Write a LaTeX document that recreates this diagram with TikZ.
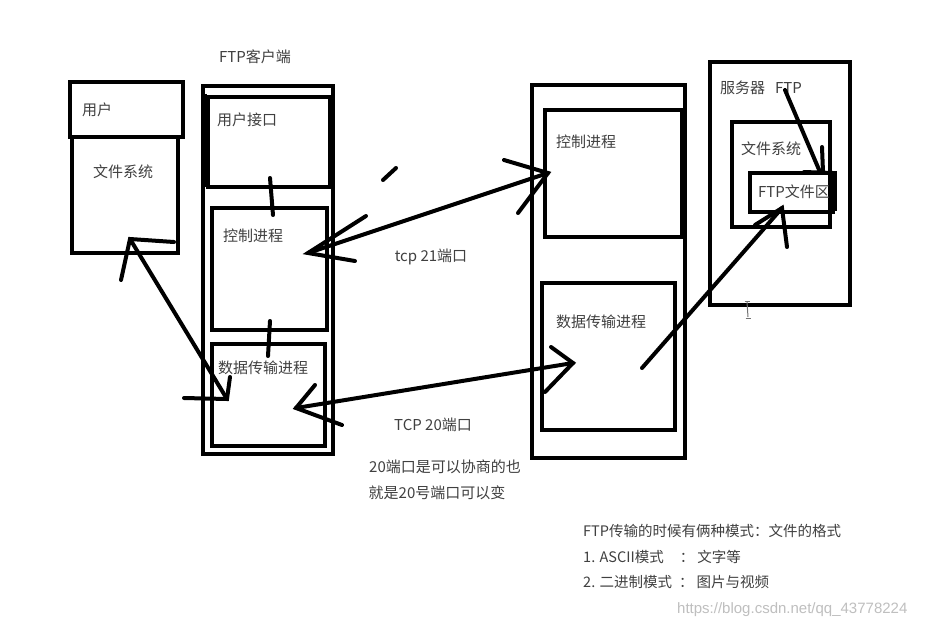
\documentclass[tikz,border=0pt]{standalone}
\usepackage{fontspec}
\usetikzlibrary{calc}
\newfontfamily\cjkfont{Noto Sans CJK SC}
\newfontfamily\wmfont{Liberation Sans}
\begin{document}
\begin{tikzpicture}[x=1pt,y=-1pt,
  box/.style={draw=black, line width=4.5pt, inner sep=0pt},
  stroke/.style={draw=black, line width=4pt, line cap=round},
  lbl/.style={font=\cjkfont\fontsize{15}{17}\selectfont, text=black!75, inner sep=0pt},
  note/.style={font=\cjkfont\fontsize{14.5}{17}\selectfont, text=black!75, inner sep=0pt},
  wm/.style={font=\wmfont\fontsize{15}{17}\selectfont, text=black!25, inner sep=0pt}]
\useasboundingbox[fill=white] (0,0) rectangle (929,630);

% ---------- left: user ----------
\node[box, minimum width=113pt, minimum height=55pt] (userhead) at (126.5,109.5) {};
\node[box, minimum width=106pt, minimum height=116pt] (userfs) at (125,195) {};
\node[lbl] (tuser) at (97,110) {用户};
\node[lbl] (tuserfs) at (123,172) {文件系统};

% ---------- FTP client ----------
\node[lbl] (tclient) at (255,57) {FTP客户端};
\node[box, minimum width=130pt, minimum height=368pt] (client) at (268,270) {};
\node[box, minimum width=122pt, minimum height=90pt] (cui) at (269,142) {};
\node[box, minimum width=115pt, minimum height=122pt] (cctrl) at (269.5,269) {};
\node[box, minimum width=113pt, minimum height=102pt] (cdata) at (268.5,395) {};
\node[lbl] (tcui) at (247,120) {用户接口};
\node[lbl] (tcctrl) at (253,236) {控制进程};
\node[lbl] (tcdata) at (263,368) {数据传输进程};
\draw[line width=4pt] (client.north west) ++(4,10) -- ++(0,93);

% connectors inside client
\coordinate (k1a) at (270,178); \coordinate (k1b) at (273,215);
\coordinate (k2a) at (270,321); \coordinate (k2b) at (268,356);
\draw[stroke] (k1a) -- (k1b);
\draw[stroke] (k2a) -- (k2b);

% ---------- server (middle) ----------
\node[box, minimum width=153pt, minimum height=373pt] (server) at (608.5,271.5) {};
\node[box, minimum width=137pt, minimum height=127pt] (sctrl) at (613.5,173.5) {};
\node[box, minimum width=133pt, minimum height=147pt] (sdata) at (608.5,356.5) {};
\node[lbl] (tsctrl) at (586,142) {控制进程};
\node[lbl] (tsdata) at (601,322) {数据传输进程};

% ---------- server (right) ----------
\node[box, minimum width=140pt, minimum height=243pt] (srv) at (780,183.5) {};
\node[box, minimum width=98pt, minimum height=105pt] (srvfs) at (781,174.5) {};
\node[box, minimum width=83pt, minimum height=39pt] (ftparea) at (791.5,192.5) {};
\draw[line width=6pt] (ftparea.north east) ++(-1,0) -- ++(0,40);
\node[lbl, anchor=west] (tsrv) at (720,88) {服务器};
\node[lbl, anchor=west] (tsrvftp) at (775,88) {FTP};
\node[lbl] (tsrvfs) at (771,149) {文件系统};
\node[lbl] (tftparea) at (794,192) {FTP文件区};

% ---------- arrow: user fs <-> client data ----------
\coordinate (a1) at (130,239); \coordinate (a2) at (227,399);
\coordinate (a1l) at (121,280); \coordinate (a1r) at (174,242);
\coordinate (a2u) at (230,377); \coordinate (a2l) at (184,398);
\draw[stroke] (a1) -- (a2);
\draw[stroke] (a1l) -- (a1) -- (a1r);
\draw[stroke] (a2u) -- (a2) -- (a2l);

% ---------- arrow: control (tcp 21) ----------
\coordinate (b1) at (308,253); \coordinate (b2) at (548,173);
\coordinate (b1u) at (366,216); \coordinate (b1d) at (355,261);
\coordinate (b2u) at (504,160); \coordinate (b2d) at (518,213);
\draw[stroke] (b1) -- (b2);
\draw[stroke] (b1u) -- (b1) -- (b1d);
\draw[stroke] (b2u) -- (b2) -- (b2d);
\coordinate (d1) at (383,180); \coordinate (d2) at (396,168);
\draw[stroke] (d1) -- (d2);
\node[lbl] (ttcp21) at (431,257) {tcp 21端口};

% ---------- arrow: data (TCP 20) ----------
\coordinate (c1) at (296,408); \coordinate (c2) at (573,363);
\coordinate (c1u) at (315,385); \coordinate (c1d) at (342,425);
\coordinate (c2u) at (551,347); \coordinate (c2d) at (545,392);
\draw[stroke] (c1) -- (c2);
\draw[stroke] (c1u) -- (c1) -- (c1d);
\draw[stroke] (c2u) -- (c2) -- (c2d);
\node[lbl] (ttcp20) at (433,425) {TCP 20端口};
\node[lbl] (tnote1) at (445,467) {20端口是可以协商的也};
\node[lbl] (tnote2) at (437,493) {就是20号端口可以变};

% ---------- arrow: server data -> FTP area ----------
\coordinate (e1) at (642,368); \coordinate (e2) at (782,208);
\coordinate (e2l) at (755,225); \coordinate (e2d) at (787,247);
\draw[stroke] (e1) -- (e2);
\draw[stroke] (e2l) -- (e2) -- (e2d);

% ---------- arrow: FTP label -> FTP area ----------
\coordinate (f1) at (785,90); \coordinate (f2) at (820,172);
\coordinate (f2u) at (822,147); \coordinate (f2b) at (823,172);
\coordinate (f2l) at (804,172); \coordinate (f2r) at (833,173);
\draw[stroke] (f1) -- (f2);
\draw[stroke] (f2u) -- (f2b);
\draw[stroke] (f2l) -- (f2r);

% cursor
\coordinate (i1) at (747,302); \coordinate (i2) at (748,317);
\draw[black!55, line width=1pt] (i1) -- (i2);
\draw[black!55, line width=0.8pt] ($(i1)+(-2.5,-1)$) -- ($(i1)+(2.5,-1)$);
\draw[black!55, line width=0.8pt] ($(i2)+(-2.5,1)$) -- ($(i2)+(2.5,1)$);

% ---------- bottom notes ----------
\node[note, anchor=west] (tb1) at (583,531) {FTP传输的时候有俩种模式：文件的格式};
\node[note, anchor=west] (tb2) at (583,557) {1. ASCII模式\hspace{16pt}：\hspace{3pt}文字等};
\node[note, anchor=west] (tb3) at (583,582) {2. 二进制模式\hspace{7pt}：\hspace{3pt}图片与视频};
\node[wm, anchor=west] (twm) at (677,610) {https://blog.csdn.net/qq\_43778224};
\end{tikzpicture}
\end{document}
